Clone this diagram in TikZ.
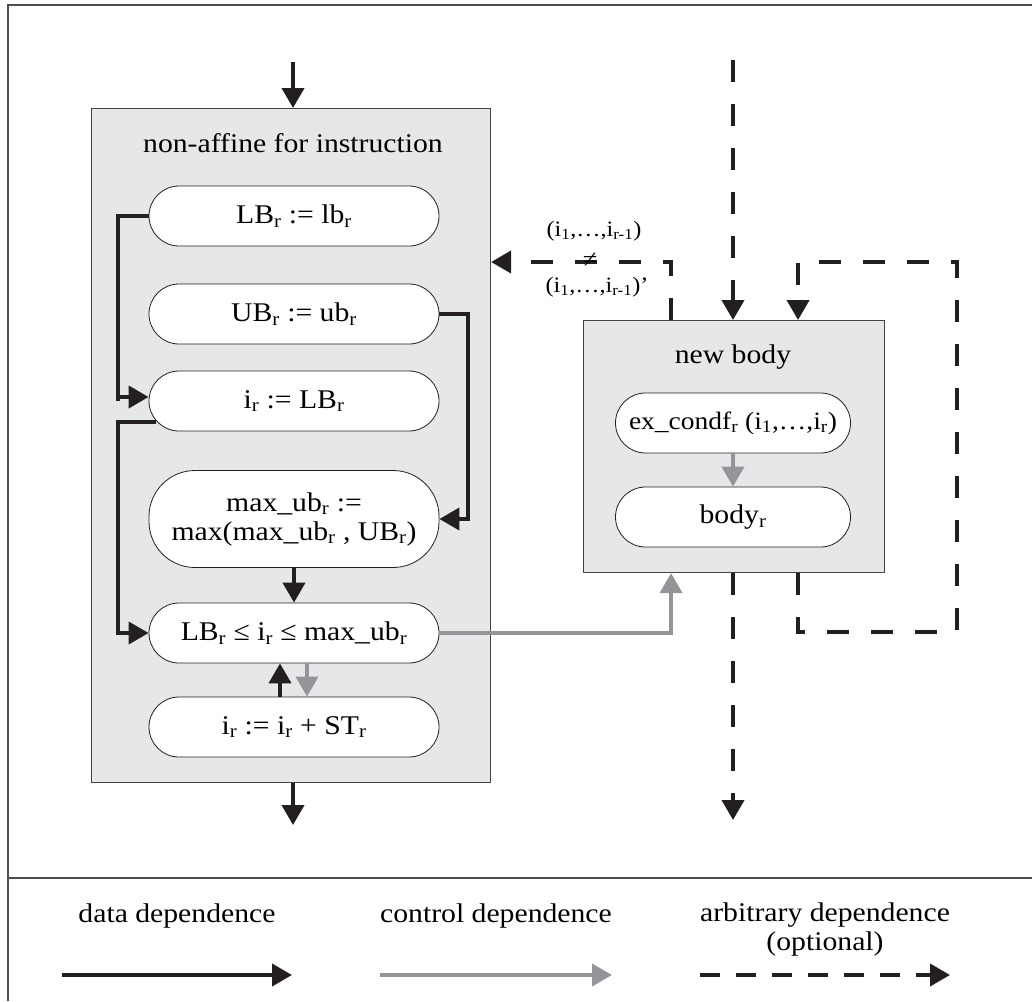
\documentclass[tikz,border=0pt]{standalone}
\usepackage{fontspec}
\setmainfont[FakeStretch=1.1]{Liberation Serif}
\usetikzlibrary{arrows.meta}
\definecolor{ink}{HTML}{231F20}
\definecolor{ctrl}{HTML}{939598}
\definecolor{boxfill}{HTML}{E6E7E8}
\newcommand{\sbr}[1]{\textsubscript{#1}}
\begin{document}
\begin{tikzpicture}[x=1pt,y=-1pt,
  txt/.style={font=\fontsize{27}{29}\selectfont},
  lbl/.style={font=\fontsize{22}{24}\selectfont, inner sep=0pt},
  pill/.style={draw=ink, line width=0.8pt, fill=white, rounded corners=30pt,
    minimum width=290pt, minimum height=60pt, inner sep=0pt, align=center, txt},
  pillsm/.style={pill, minimum width=235pt},
  group/.style={draw=ink!85, line width=1.1pt, fill=boxfill, inner sep=0pt},
  dataarr/.style={draw=ink, line width=4pt, -{Triangle[length=20pt,width=22pt]}},
  ctrlarr/.style={draw=ctrl, line width=4pt, -{Triangle[length=20pt,width=22pt]}},
  dasharr/.style={draw=ink, line width=4pt, dash pattern=on 22pt off 22pt,
    -{Triangle[length=20pt,width=22pt]}},
  frameline/.style={draw=ink!80, line width=1.5pt}
]
\useasboundingbox (0,0) rectangle (1032,1001);
% frame
\draw[frameline] (8,1001) -- (8,5) -- (1032,5);
\draw[frameline] (8,878) -- (1032,878);

% group boxes
\node[group, minimum width=399pt, minimum height=674pt, anchor=north west] (nonaff) at (91,108) {};
\node[txt] (t1) at (293,143) {non-affine for instruction};
\node[group, minimum width=301pt, minimum height=252pt, anchor=north west] (nb) at (583,320) {};
\node[txt] (t2) at (733,357) {new body};

% pills
\node[pill] (lb) at (294,216) {LB\sbr{r} := lb\sbr{r}};
\node[pill] (ub) at (294,314) {UB\sbr{r} := ub\sbr{r}};
\node[pill] (ir) at (294,401) {i\sbr{r} := LB\sbr{r}};
\node[pill, minimum height=97pt, rounded corners=46pt] (mx) at (294,519)
  {max\_ub\sbr{r} :=\\max(max\_ub\sbr{r} , UB\sbr{r})};
\node[pill] (cmp) at (294,633) {LB\sbr{r} ≤ i\sbr{r} ≤ max\_ub\sbr{r}};
\node[pill] (inc) at (294,727) {i\sbr{r} := i\sbr{r} + ST\sbr{r}};
\node[pillsm, font=\fontsize{25}{29}\selectfont] (ex) at (733,423) {ex\_condf\sbr{r} (i\sbr{1},…,i\sbr{r})};
\node[pillsm] (body) at (733,517) {body\sbr{r}};

% data dependences
\coordinate (in1) at (293,62);
\coordinate (out1) at (293,825);
\draw[dataarr] (in1) -- (in1 |- nonaff.north);
\draw[dataarr] (in1 |- nonaff.south) -- (out1);
\coordinate (lx) at (118,0);
\coordinate (rx) at (468,0);
\draw[dataarr] (lb.west) -| (lx |- ir.west) ++(0,-4) -- ([yshift=4pt]ir.west);
\draw[dataarr] ([xshift=7pt,yshift=-21pt]ir.west) -| (lx |- cmp.west) -- (cmp.west);
\draw[dataarr] (ub.east) -| (rx |- mx.east) -- (mx.east);
\draw[dataarr] (mx.south) -- (cmp.north);
\draw[dataarr] ([xshift=-14pt]inc.north) -- ([xshift=-14pt]cmp.south);

% control dependences
\draw[ctrlarr] ([xshift=13pt]cmp.south) -- ([xshift=13pt]inc.north);
\draw[ctrlarr] (cmp.east) -| ([xshift=-63pt]nb.south);
\draw[ctrlarr] (ex.south) -- (body.north);

% arbitrary dependences
\coordinate (dtop) at (733,60);
\coordinate (dbot) at (733,820);
\draw[dasharr] (dtop) -- (dtop |- nb.north);
\draw[dasharr] (dbot |- nb.south) -- (dbot);
\coordinate (lpBR) at (957,632);
\coordinate (lpTR) at (957,262);
\draw[dasharr] ([xshift=64pt]nb.south) |- (lpBR) -- (lpTR) -| ([xshift=64pt]nb.north);
\draw[dasharr] ([xshift=-63pt]nb.north) |- (nonaff.east |- lpTR);
\node[lbl] (condA) at (594,231) {(i\sbr{1},…,i\sbr{r-1})};
\node[lbl, font=\fontsize{24}{24}\selectfont] (condB) at (590,260) {≠};
\node[lbl] (condC) at (597,287) {(i\sbr{1},…,i\sbr{r-1})’};

% legend
\node[txt] (ld) at (177,916) {data dependence};
\node[txt] (lc) at (496,916) {control dependence};
\node[txt, align=center] (la) at (825,929) {arbitrary dependence\\(optional)};
\coordinate (l1a) at (62,975);  \coordinate (l1b) at (292,975);
\coordinate (l2a) at (380,975); \coordinate (l2b) at (612,975);
\coordinate (l3a) at (700,975); \coordinate (l3b) at (950,975);
\draw[dataarr] (l1a) -- (l1b);
\draw[ctrlarr] (l2a) -- (l2b);
\draw[dasharr, dash pattern=on 20pt off 16pt] (l3a) -- (l3b);
\end{tikzpicture}
\end{document}
